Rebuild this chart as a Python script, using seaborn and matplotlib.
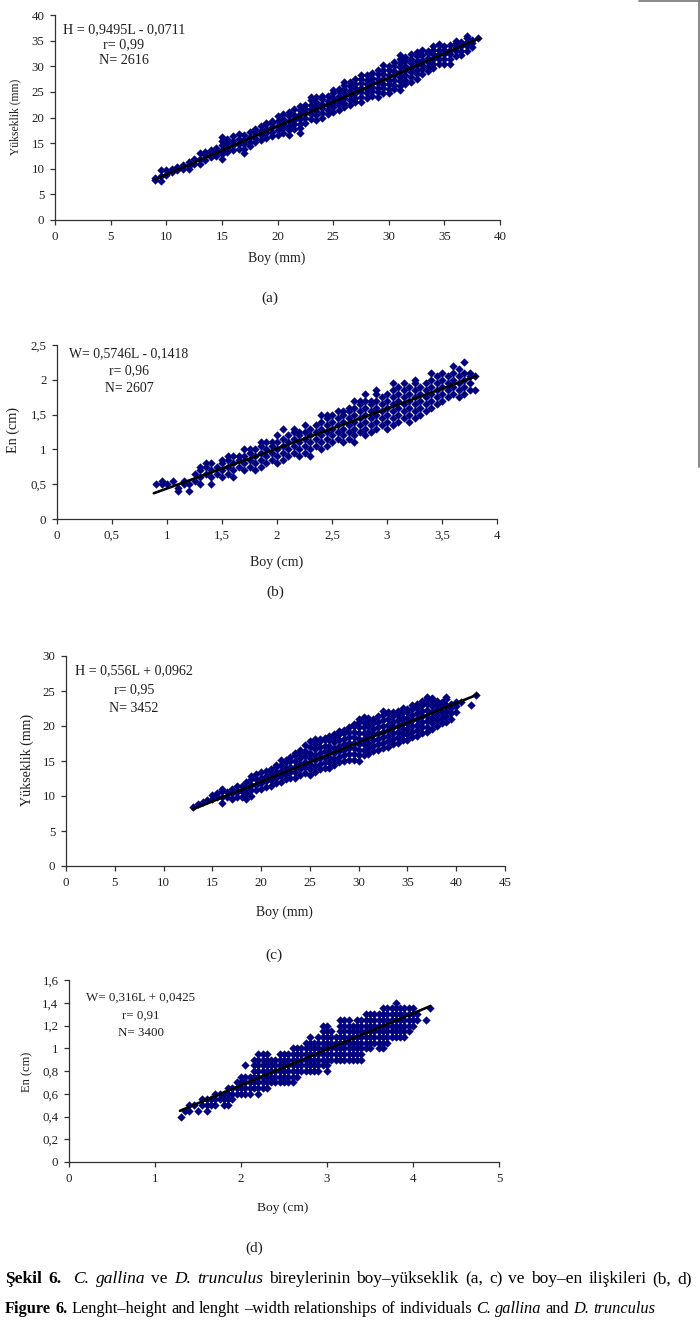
import numpy as np
import pandas as pd
import matplotlib
matplotlib.use("Agg")
import matplotlib.pyplot as plt
from matplotlib.lines import Line2D
from matplotlib.ticker import FixedLocator, FixedFormatter
import seaborn as sns

# ---------------- data ----------------
# Panel (a): C. gallina, Boy (mm) vs Yükseklik (mm); one list of heights per length column
a_boy = [9.0, 9.5, 10.0, 10.5, 11.0, 11.5, 12.0, 12.5, 13.0, 13.5, 14.0, 14.5, 15.0, 15.5,
         16.0, 16.5, 17.0, 17.5, 18.0, 18.5, 19.0, 19.5, 20.0, 20.5, 21.0, 21.5, 22.0, 22.5,
         23.0, 23.5, 24.0, 24.5, 25.0, 25.5, 26.0, 26.5, 27.0, 27.5, 28.0, 28.5, 29.0, 29.5,
         30.0, 30.5, 31.0, 31.5, 32.0, 32.5, 33.0, 33.5, 34.0, 34.5, 35.0, 35.5, 36.0, 36.5,
         37.0, 37.5, 38.0]
a_yuk = [[7.8, 8.2], [7.6, 8.6, 9.7], [8.8, 9.7], [9.3, 10.0], [9.8, 10.3], [10.0, 10.8],
         [9.9, 10.6, 11.3], [11.0, 12.0], [11.0, 11.9, 13.0], [11.8, 12.6, 13.2],
         [12.2, 13.0, 13.6], [12.5, 13.3, 14.0], [11.9, 12.8, 13.7, 14.6, 15.4, 16.1],
         [13.2, 14.1, 15.0, 15.9], [13.7, 14.6, 15.5, 16.4], [13.8, 14.9, 15.8, 16.7],
         [13.0, 13.9, 14.8, 15.6, 16.5], [14.4, 15.3, 16.2, 17.1], [15.2, 16.0, 16.9, 17.8],
         [15.6, 16.5, 17.4, 18.3], [16.0, 16.9, 17.8, 18.7, 19.0], [16.3, 17.2, 18.1, 19.0, 19.4],
         [16.6, 17.5, 18.4, 19.3, 20.2], [17.0, 17.9, 18.8, 19.7, 20.6],
         [16.6, 17.5, 18.4, 19.3, 20.2, 21.0], [17.8, 18.7, 19.6, 20.5, 21.6],
         [17.0, 17.9, 18.8, 19.7, 20.6, 21.5, 22.2], [19.0, 19.9, 20.8, 21.7, 22.5],
         [19.8, 20.7, 21.6, 22.5, 23.4, 24.0], [19.5, 20.4, 21.3, 22.2, 23.1, 24.0],
         [20.0, 20.9, 21.8, 22.7, 23.6, 24.2], [20.6, 21.5, 22.4, 23.3, 24.1],
         [21.1, 22.0, 22.9, 23.8, 24.7, 25.3], [21.5, 22.4, 23.3, 24.2, 25.1, 25.6],
         [22.0, 22.9, 23.8, 24.7, 25.6, 26.4, 27.0], [22.5, 23.4, 24.3, 25.2, 26.1, 27.0],
         [23.0, 23.9, 24.8, 25.7, 26.6, 27.5], [23.1, 24.0, 24.9, 25.8, 26.7, 27.6, 28.3],
         [23.8, 24.7, 25.6, 26.5, 27.4, 28.2], [24.2, 25.1, 26.0, 26.9, 27.8, 28.6],
         [24.0, 24.9, 25.8, 26.7, 27.6, 28.5, 29.2], [24.8, 25.7, 26.6, 27.5, 28.4, 29.3, 30.2],
         [24.7, 25.6, 26.5, 27.4, 28.3, 29.2, 30.0], [25.5, 26.4, 27.3, 28.2, 29.1, 30.0, 30.8],
         [25.3, 26.2, 27.1, 28.0, 28.9, 29.8, 30.7, 31.5, 32.1],
         [26.5, 27.4, 28.3, 29.2, 30.1, 31.0, 31.8], [27.0, 27.9, 28.8, 29.7, 30.6, 31.5, 32.4],
         [27.5, 28.4, 29.3, 30.2, 31.1, 32.0, 32.8], [28.5, 29.4, 30.3, 31.2, 32.1, 33.1],
         [29.0, 29.9, 30.8, 31.7, 32.6, 33.0], [29.6, 30.5, 31.4, 32.3, 33.2, 34.0],
         [30.5, 31.4, 32.3, 33.2, 34.1, 34.4], [30.5, 31.4, 32.3, 33.2, 34.0],
         [30.5, 31.4, 32.3, 33.2, 34.2], [32.0, 32.9, 33.8, 34.6, 35.0], [32.1, 33.0, 33.9, 34.8],
         [33.0, 33.9, 34.8, 35.5, 36.0], [33.8, 34.5, 35.2], [35.6]]

# Panel (b): C. gallina, Boy (cm) vs En (cm)
b_boy = [0.90, 0.95, 1.00, 1.05, 1.10, 1.15, 1.20, 1.25, 1.30, 1.35, 1.40, 1.45, 1.50, 1.55,
         1.60, 1.65, 1.70, 1.75, 1.80, 1.85, 1.90, 1.95, 2.00, 2.05, 2.10, 2.15, 2.20, 2.25,
         2.30, 2.35, 2.40, 2.45, 2.50, 2.55, 2.60, 2.65, 2.70, 2.75, 2.80, 2.85, 2.90, 2.95,
         3.00, 3.05, 3.10, 3.15, 3.20, 3.25, 3.30, 3.35, 3.40, 3.45, 3.50, 3.55, 3.60, 3.65,
         3.70, 3.75, 3.80]
b_en = [[0.50], [0.50, 0.55], [0.50], [0.55], [0.40, 0.45], [0.50, 0.55], [0.40, 0.50],
        [0.55, 0.65], [0.50, 0.60, 0.70, 0.75], [0.65, 0.75, 0.80], [0.50, 0.60, 0.70, 0.80],
        [0.65, 0.75], [0.60, 0.70, 0.80, 0.85], [0.65, 0.75, 0.85, 0.90], [0.60, 0.70, 0.80, 0.90],
        [0.75, 0.85, 0.90], [0.70, 0.80, 0.90, 1.00], [0.75, 0.85, 0.95, 1.00],
        [0.70, 0.80, 0.90, 1.00], [0.75, 0.85, 0.95, 1.05, 1.10], [0.80, 0.90, 1.00, 1.10],
        [0.85, 0.95, 1.05, 1.10], [0.80, 0.90, 1.00, 1.10, 1.20], [0.85, 0.95, 1.05, 1.15, 1.30],
        [0.90, 1.00, 1.10, 1.20], [0.95, 1.05, 1.15, 1.25, 1.30], [0.90, 1.00, 1.10, 1.20, 1.25],
        [0.95, 1.05, 1.15, 1.25, 1.35], [0.90, 1.00, 1.10, 1.20, 1.30], [1.05, 1.15, 1.25, 1.35],
        [1.00, 1.10, 1.20, 1.30, 1.40, 1.50], [1.05, 1.15, 1.25, 1.35, 1.45, 1.50],
        [1.10, 1.20, 1.30, 1.40, 1.50], [1.15, 1.25, 1.35, 1.45, 1.55],
        [1.10, 1.20, 1.30, 1.40, 1.50, 1.55], [1.15, 1.25, 1.35, 1.45, 1.55, 1.60],
        [1.10, 1.20, 1.30, 1.40, 1.50, 1.60, 1.70], [1.25, 1.35, 1.45, 1.55, 1.65, 1.70],
        [1.20, 1.30, 1.40, 1.50, 1.60, 1.70, 1.80], [1.25, 1.35, 1.45, 1.55, 1.65, 1.70],
        [1.30, 1.40, 1.50, 1.60, 1.70, 1.80, 1.85], [1.35, 1.45, 1.55, 1.65, 1.75],
        [1.30, 1.40, 1.50, 1.60, 1.70, 1.80], [1.35, 1.45, 1.55, 1.65, 1.75, 1.85, 1.95],
        [1.40, 1.50, 1.60, 1.70, 1.80, 1.90], [1.45, 1.55, 1.65, 1.75, 1.85, 1.95],
        [1.40, 1.50, 1.60, 1.70, 1.80, 1.90], [1.45, 1.55, 1.65, 1.75, 1.85, 1.95, 2.00],
        [1.50, 1.60, 1.70, 1.80, 1.90], [1.55, 1.65, 1.75, 1.85, 1.95],
        [1.60, 1.70, 1.80, 1.90, 2.00, 2.10], [1.65, 1.75, 1.85, 1.95, 2.05],
        [1.70, 1.80, 1.90, 2.00, 2.10], [1.75, 1.85, 1.95, 2.05], [1.80, 1.90, 2.00, 2.10, 2.20],
        [1.75, 1.85, 1.95, 2.05, 2.15], [1.80, 1.90, 2.00, 2.10, 2.25], [1.85, 1.95, 2.05, 2.10],
        [1.85, 2.05]]

# Panel (c): D. trunculus, Boy (mm) vs Yükseklik (mm)
c_boy = [13.0, 13.5, 14.0, 14.5, 15.0, 15.5, 16.0, 16.5, 17.0, 17.5, 18.0, 18.5, 19.0, 19.5,
         20.0, 20.5, 21.0, 21.5, 22.0, 22.5, 23.0, 23.5, 24.0, 24.5, 25.0, 25.5, 26.0, 26.5,
         27.0, 27.5, 28.0, 28.5, 29.0, 29.5, 30.0, 30.5, 31.0, 31.5, 32.0, 32.5, 33.0, 33.5,
         34.0, 34.5, 35.0, 35.5, 36.0, 36.5, 37.0, 37.5, 38.0, 38.5, 39.0, 39.5, 40.0, 40.5,
         41.5, 42.0]
c_yuk = [[8.5], [8.8], [9.1], [9.5], [9.6, 10.1], [9.8, 10.5], [9.0, 9.9, 10.7, 11.0], [9.8, 10.6],
         [9.6, 10.4, 11.0], [9.8, 10.6, 11.5], [9.9, 10.7, 11.5], [9.6, 10.4, 11.2, 12.0],
         [10.0, 10.8, 11.6, 12.4, 12.8], [10.8, 11.6, 12.4, 13.2], [11.0, 11.8, 12.6, 13.4],
         [11.3, 12.1, 12.9, 13.6], [11.5, 12.3, 13.1, 13.9], [11.8, 12.6, 13.4, 14.2, 14.5],
         [12.0, 12.8, 13.6, 14.4, 15.2], [12.4, 13.2, 14.0, 14.8, 15.2],
         [12.6, 13.4, 14.2, 15.0, 15.6], [12.6, 13.4, 14.2, 15.0, 15.8, 16.2],
         [13.0, 13.8, 14.6, 15.4, 16.2, 16.6], [13.3, 14.1, 14.9, 15.7, 16.5, 17.3],
         [13.0, 13.8, 14.6, 15.4, 16.2, 17.0, 17.8], [13.5, 14.3, 15.1, 15.9, 16.7, 17.5, 18.2],
         [13.8, 14.6, 15.4, 16.2, 17.0, 17.8, 18.1], [14.0, 14.8, 15.6, 16.4, 17.2, 18.0, 18.3],
         [14.0, 14.8, 15.6, 16.4, 17.2, 18.0, 18.6], [14.5, 15.3, 16.1, 16.9, 17.7, 18.5, 18.9],
         [14.8, 15.6, 16.4, 17.2, 18.0, 18.8, 19.3], [15.0, 15.8, 16.6, 17.4, 18.2, 19.0, 19.5],
         [15.2, 16.0, 16.8, 17.6, 18.4, 19.2, 19.9],
         [15.2, 16.0, 16.8, 17.6, 18.4, 19.2, 20.0, 20.3],
         [15.0, 15.8, 16.6, 17.4, 18.2, 19.0, 19.8, 20.6, 21.0],
         [15.8, 16.6, 17.4, 18.2, 19.0, 19.8, 20.6, 21.3],
         [16.0, 16.8, 17.6, 18.4, 19.2, 20.0, 20.8, 21.2],
         [16.4, 17.2, 18.0, 18.8, 19.6, 20.4, 21.0], [16.6, 17.4, 18.2, 19.0, 19.8, 20.6, 21.4],
         [16.8, 17.6, 18.4, 19.2, 20.0, 20.8, 21.6, 22.2],
         [17.0, 17.8, 18.6, 19.4, 20.2, 21.0, 21.8, 22.0],
         [17.4, 18.2, 19.0, 19.8, 20.6, 21.4, 22.0], [17.6, 18.4, 19.2, 20.0, 20.8, 21.6, 22.2],
         [18.0, 18.8, 19.6, 20.4, 21.2, 22.0, 22.6], [18.0, 18.8, 19.6, 20.4, 21.2, 22.0, 22.4],
         [18.4, 19.2, 20.0, 20.8, 21.6, 22.4, 23.0], [18.6, 19.4, 20.2, 21.0, 21.8, 22.6, 23.2],
         [19.0, 19.8, 20.6, 21.4, 22.2, 23.0, 23.6],
         [19.1, 19.9, 20.7, 21.5, 22.3, 23.1, 23.9, 24.1],
         [19.6, 20.4, 21.2, 22.0, 22.8, 23.6, 24.0], [20.0, 20.8, 21.6, 22.4, 23.2, 23.6],
         [20.4, 21.2, 22.0, 22.8, 23.5], [20.6, 21.4, 22.2, 23.0, 23.8, 24.1],
         [21.0, 21.8, 22.6, 23.2], [22.0, 22.8, 23.4], [23.4], [23.0], [24.5]]

# Panel (d): D. trunculus, Boy (cm) vs En (cm)
d_boy = [1.30, 1.35, 1.40, 1.45, 1.50, 1.55, 1.60, 1.65, 1.70, 1.75, 1.80, 1.85, 1.90, 1.95,
         2.00, 2.05, 2.10, 2.15, 2.20, 2.25, 2.30, 2.35, 2.40, 2.45, 2.50, 2.55, 2.60, 2.65,
         2.70, 2.75, 2.80, 2.85, 2.90, 2.95, 3.00, 3.05, 3.10, 3.15, 3.20, 3.25, 3.30, 3.35,
         3.40, 3.45, 3.50, 3.55, 3.60, 3.65, 3.70, 3.75, 3.80, 3.85, 3.90, 3.95, 4.00, 4.05,
         4.15, 4.20]
d_en = [[0.40], [0.45], [0.45, 0.50], [0.50], [0.45], [0.50, 0.55], [0.45, 0.50, 0.55],
        [0.50, 0.55], [0.50, 0.55, 0.60], [0.55, 0.60], [0.50, 0.55, 0.60],
        [0.50, 0.55, 0.60, 0.65], [0.55, 0.60, 0.65], [0.60, 0.65, 0.70],
        [0.60, 0.65, 0.70, 0.75], [0.60, 0.65, 0.70, 0.75, 0.85], [0.60, 0.65, 0.70, 0.75],
        [0.65, 0.70, 0.75, 0.80, 0.85, 0.90], [0.60, 0.65, 0.70, 0.75, 0.80, 0.85, 0.90, 0.95],
        [0.65, 0.70, 0.75, 0.80, 0.85, 0.90, 0.95], [0.65, 0.70, 0.75, 0.80, 0.85, 0.90, 0.95],
        [0.70, 0.75, 0.80, 0.85, 0.90], [0.70, 0.75, 0.80, 0.85, 0.90],
        [0.70, 0.75, 0.80, 0.85, 0.90, 0.95], [0.70, 0.75, 0.80, 0.85, 0.90, 0.95],
        [0.70, 0.75, 0.80, 0.85, 0.90, 0.95], [0.70, 0.75, 0.80, 0.85, 0.90, 0.95, 1.00],
        [0.75, 0.80, 0.85, 0.90, 0.95, 1.00], [0.80, 0.85, 0.90, 0.95, 1.00],
        [0.80, 0.85, 0.90, 0.95, 1.00, 1.05], [0.80, 0.85, 0.90, 0.95, 1.00, 1.05, 1.10],
        [0.80, 0.85, 0.90, 0.95, 1.00, 1.05], [0.80, 0.85, 0.90, 0.95, 1.00, 1.05, 1.10],
        [0.85, 0.90, 0.95, 1.00, 1.05, 1.10, 1.15, 1.20],
        [0.80, 0.85, 0.90, 0.95, 1.00, 1.05, 1.10, 1.15, 1.20],
        [0.90, 0.95, 1.00, 1.05, 1.10, 1.15], [0.90, 0.95, 1.00, 1.05, 1.10],
        [0.90, 0.95, 1.00, 1.05, 1.10, 1.15, 1.20, 1.25],
        [0.90, 0.95, 1.00, 1.05, 1.10, 1.15, 1.20, 1.25],
        [0.90, 0.95, 1.00, 1.05, 1.10, 1.15, 1.20, 1.25],
        [0.90, 0.95, 1.00, 1.05, 1.10, 1.15, 1.20],
        [0.90, 0.95, 1.00, 1.05, 1.10, 1.15, 1.20, 1.25],
        [0.90, 0.95, 1.00, 1.05, 1.10, 1.15, 1.20, 1.25],
        [1.00, 1.05, 1.10, 1.15, 1.20, 1.25, 1.30], [1.00, 1.05, 1.10, 1.15, 1.20, 1.25, 1.30],
        [1.05, 1.10, 1.15, 1.20, 1.25, 1.30], [1.00, 1.05, 1.10, 1.15, 1.20, 1.25, 1.30],
        [1.00, 1.05, 1.10, 1.15, 1.20, 1.25, 1.30, 1.35],
        [1.05, 1.10, 1.15, 1.20, 1.25, 1.30, 1.35], [1.10, 1.15, 1.20, 1.25, 1.30, 1.35],
        [1.10, 1.15, 1.20, 1.25, 1.30, 1.35, 1.40], [1.10, 1.15, 1.20, 1.25, 1.30, 1.35],
        [1.10, 1.15, 1.20, 1.25, 1.30, 1.35], [1.15, 1.20, 1.25, 1.30, 1.35],
        [1.20, 1.25, 1.30, 1.35], [1.25, 1.30], [1.25], [1.35]]

# Trend lines as drawn on the chart (end points)
line_x = [(9.0, 38.2), (0.88, 3.81), (13.0, 42.2), (1.29, 4.2)]
line_y = [(7.9, 35.5), (0.37, 2.05), (8.1, 24.5), (0.45, 1.37)]

eq_texts = [["H = 0,9495L - 0,0711", "r= 0,99", "N= 2616"],
            ["W= 0,5746L - 0,1418", "r= 0,96", "N= 2607"],
            ["H = 0,556L + 0,0962", "r= 0,95", "N= 3452"],
            ["W= 0,316L + 0,0425", "r= 0,91", "N= 3400"]]

x_labels = ["Boy (mm)", "Boy (cm)", "Boy (mm)", "Boy (cm)"]
y_labels = ["Yükseklik (mm)", "En (cm)", "Yükseklik (mm)", "En (cm)"]
panel_tags = ["(a)", "(b)", "(c)", "(d)"]

x_ticks = [[0, 5, 10, 15, 20, 25, 30, 35, 40],
           [0, 0.5, 1, 1.5, 2, 2.5, 3, 3.5, 4],
           [0, 5, 10, 15, 20, 25, 30, 35, 40, 45],
           [0, 1, 2, 3, 4, 5]]
y_ticks = [[0, 5, 10, 15, 20, 25, 30, 35, 40],
           [0, 0.5, 1, 1.5, 2, 2.5],
           [0, 5, 10, 15, 20, 25, 30],
           [0, 0.2, 0.4, 0.6, 0.8, 1, 1.2, 1.4, 1.6]]

# ---------------- layout ----------------
W, H = 700, 1322
sns.set_theme(style="white")
plt.rcParams["font.family"] = ["Liberation Serif", "DejaVu Serif"]
fig = plt.figure(figsize=(W / 100, H / 100), dpi=100)
fig.patch.set_facecolor("white")


def fx(p):
    return p / W


def fy(p):
    return 1 - p / H


# axes boxes in pixels: left, right, top, bottom
boxes = [(55, 500, 15, 220), (57, 497, 345, 519), (66, 505, 656, 866), (69, 499, 980, 1162)]
xlab_pos = [(277, 258), (277, 562), (284, 912), (283, 1208)]
xlab_size = [10.0, 10.1, 9.9, 9.7]
ylab_pos = [(15, 117), (13, 430), (27, 760), (27, 1072)]
ylab_size = [8.4, 10.2, 10.1, 9.0]
tag_pos = [(270, 298), (275, 592), (274, 955), (254, 1248)]
eq_pos = [(124, 30), (129, 354), (134, 671), (141, 998)]
eq_step = [15, 17, 18.5, 17.5]
eq_size = [10.2, 9.9, 10.1, 9.4]

navy = "#00007f"
datasets = [(a_boy, a_yuk), (b_boy, b_en), (c_boy, c_yuk), (d_boy, d_en)]


def fmt(v):
    return ("%g" % v).replace(".", ",")


for i, (bx, (xs, ycols)) in enumerate(zip(boxes, datasets)):
    l, r, t, b = bx
    ax = fig.add_axes([fx(l), fy(b), (r - l) / W, (b - t) / H])
    ax.set_facecolor("white")
    px, py = [], []
    for xv, col in zip(xs, ycols):
        for yv in col:
            px.append(xv)
            py.append(yv)
    df = pd.DataFrame({"x": px, "y": py})
    sns.scatterplot(data=df, x="x", y="y", marker="D", color=navy, s=18,
                    linewidth=0, edgecolor=navy, ax=ax, legend=False, zorder=2)
    line_df = pd.DataFrame({"x": list(line_x[i]), "y": list(line_y[i])})
    sns.lineplot(data=line_df, x="x", y="y", color="black", linewidth=1.9, ax=ax, zorder=3)

    ax.set_xlim(x_ticks[i][0], x_ticks[i][-1])
    ax.set_ylim(y_ticks[i][0], y_ticks[i][-1])
    ax.xaxis.set_major_locator(FixedLocator(x_ticks[i]))
    ax.yaxis.set_major_locator(FixedLocator(y_ticks[i]))
    ax.xaxis.set_major_formatter(FixedFormatter([fmt(v) for v in x_ticks[i]]))
    ax.yaxis.set_major_formatter(FixedFormatter([fmt(v) for v in y_ticks[i]]))
    for sp in ["top", "right"]:
        ax.spines[sp].set_visible(False)
    for sp in ["left", "bottom"]:
        ax.spines[sp].set_color("#303030")
        ax.spines[sp].set_linewidth(0.9)
    ax.tick_params(axis="both", which="major", direction="out", length=3.6, width=0.9,
                   color="#303030", labelsize=9.3, labelcolor="#202020", pad=4,
                   bottom=True, left=True)
    ax.grid(False)
    ax.set_xlabel("")
    ax.set_ylabel("")

    fig.text(fx(xlab_pos[i][0]), fy(xlab_pos[i][1]), x_labels[i], ha="center", va="center",
             fontsize=xlab_size[i], color="#202020")
    fig.text(fx(ylab_pos[i][0]), fy(ylab_pos[i][1]), y_labels[i], ha="center", va="center",
             rotation=90, fontsize=ylab_size[i], color="#202020")
    ex, ey = eq_pos[i]
    for k, line in enumerate(eq_texts[i]):
        fig.text(fx(ex), fy(ey + k * eq_step[i]), line, ha="center", va="center",
                 fontsize=eq_size[i], color="#202020")
    fig.text(fx(tag_pos[i][0]), fy(tag_pos[i][1]), panel_tags[i], ha="center", va="center",
             fontsize=11, color="#202020")

# ---------------- captions with mixed styles ----------------
cap1 = [("Şekil", "bold", "normal"), ("6.", "bold", "normal"),
        ("C.", "normal", "italic"), ("gallina", "normal", "italic"), ("ve", "normal", "normal"),
        ("D.", "normal", "italic"), ("trunculus", "normal", "italic"),
        ("bireylerinin", "normal", "normal"), ("boy–yükseklik", "normal", "normal"),
        ("(a,", "normal", "normal"), ("c)", "normal", "normal"), ("ve", "normal", "normal"),
        ("boy–en", "normal", "normal"), ("ilişkileri", "normal", "normal"),
        ("(b,", "normal", "normal"), ("d)", "normal", "normal")]
cap1_gap_weight = [1, 2, 1, 1, 1, 1, 1, 1, 1, 1, 1, 1, 1, 1, 1]
cap2 = [("Figure", "bold", "normal"), ("6.", "bold", "normal"),
        ("Lenght–height", "normal", "normal"), ("and", "normal", "normal"),
        ("lenght", "normal", "normal"), ("–width", "normal", "normal"),
        ("relationships", "normal", "normal"), ("of", "normal", "normal"),
        ("individuals", "normal", "normal"), ("C.", "normal", "italic"),
        ("gallina", "normal", "italic"), ("and", "normal", "normal"),
        ("D.", "normal", "italic"), ("trunculus", "normal", "italic")]

renderer = fig.canvas.get_renderer()


def draw_words(words, x_px, y_px, size, right_px=None, weights=None):
    arts = []
    widths = []
    for txt, weight, style in words:
        t = fig.text(fx(x_px), fy(y_px), txt, ha="left", va="baseline", fontsize=size,
                     fontweight=weight, fontstyle=style, color="black")
        arts.append(t)
        widths.append(t.get_window_extent(renderer=renderer).width)
    if weights is None:
        weights = [1] * (len(words) - 1)
    probe_a = fig.text(0, 0, "a a", fontsize=size)
    probe_b = fig.text(0, 0, "aa", fontsize=size)
    space = (probe_a.get_window_extent(renderer=renderer).width
             - probe_b.get_window_extent(renderer=renderer).width)
    probe_a.remove()
    probe_b.remove()
    if right_px is not None:
        gap = (right_px - x_px - sum(widths)) / sum(weights)
        gap = max(gap, space)
    else:
        gap = space
    x = x_px
    for k, t in enumerate(arts):
        t.set_x(fx(x))
        x += widths[k]
        if k < len(weights):
            x += gap * weights[k]


draw_words(cap1, 5, 1283, 12.5, right_px=692, weights=cap1_gap_weight)
draw_words(cap2, 5, 1313, 11.8)

# page frame corner at top right
fig.add_artist(Line2D([fx(639), fx(699.5)], [fy(0.5), fy(0.5)], color="#808080", linewidth=1.3))
fig.add_artist(Line2D([fx(699.2), fx(699.2)], [fy(0), fy(467)], color="#808080", linewidth=1.3))

fig.savefig("out.png", dpi=100, facecolor="white")
